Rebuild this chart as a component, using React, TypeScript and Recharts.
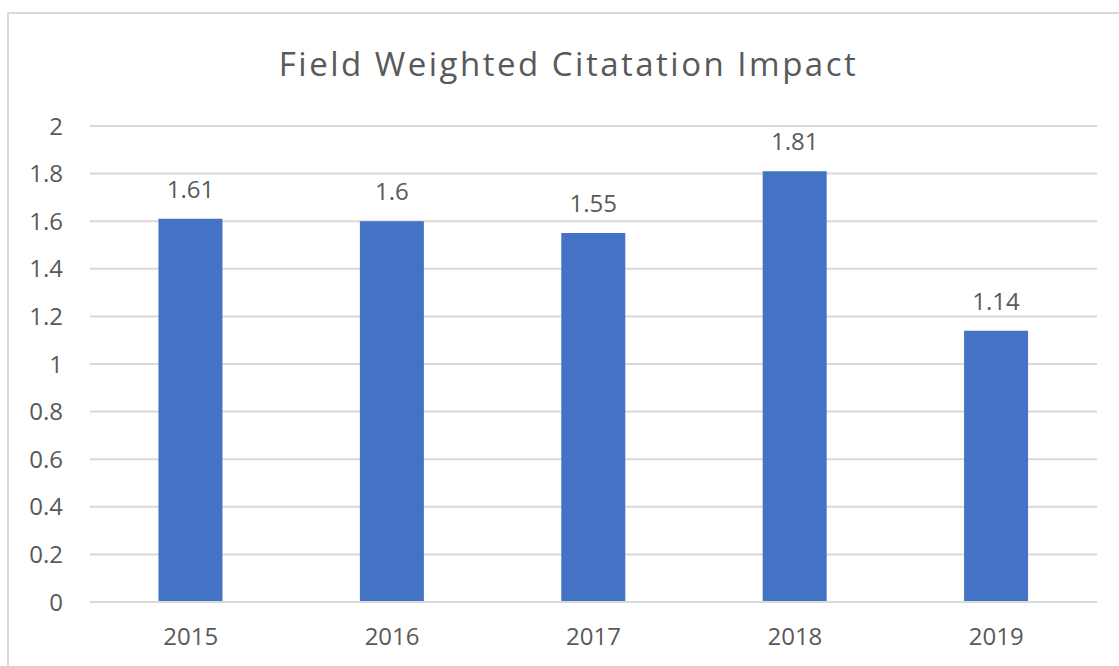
import { BarChart, Bar, XAxis, YAxis, CartesianGrid, LabelList } from 'recharts';

const years = ['2015', '2016', '2017', '2018', '2019'];
const fwci = [1.61, 1.6, 1.55, 1.81, 1.14];
const yTicks = [0, 0.2, 0.4, 0.6, 0.8, 1, 1.2, 1.4, 1.6, 1.8, 2];

const data = years.map((year, i) => ({ year, value: fwci[i] }));

const FONT = '"Open Sans", "Liberation Sans", sans-serif';
const TEXT = '#595959';

export default function App() {
  return (
    <div style={{ position: 'absolute', left: 0, top: 0, width: 1119, height: 666, background: '#fff', overflow: 'hidden', fontFamily: FONT }}>
      <div style={{ position: 'absolute', left: 7, top: 12, width: 1140, height: 700, border: '2px solid #d9d9d9', boxSizing: 'border-box' }} />
      <div style={{ position: 'absolute', left: 0, top: 40, width: 1137, textAlign: 'center', fontSize: 33, letterSpacing: 2.5, color: TEXT, lineHeight: '48px' }}>
        Field Weighted Citatation Impact
      </div>
      <div style={{ position: 'absolute', left: 0, top: 0 }}>
        <BarChart width={1119} height={666} data={data} margin={{ top: 126, right: 22, bottom: 34, left: 30 }} barCategoryGap="34%">
          <CartesianGrid vertical={false} stroke="#d9d9d9" strokeWidth={2} />
          <XAxis
            dataKey="year"
            tickLine={false}
            axisLine={{ stroke: '#d9d9d9', strokeWidth: 2 }}
            tickSize={0}
            tickMargin={26}
            tick={{ fill: TEXT, fontSize: 24, fontFamily: FONT }}
          />
          <YAxis
            width={60}
            domain={[0, 2]}
            ticks={yTicks}
            tickLine={false}
            axisLine={false}
            tickSize={0}
            tickMargin={27}
            tick={{ fill: TEXT, fontSize: 24, fontFamily: FONT }}
          />
          <Bar dataKey="value" fill="#4472c4" isAnimationActive={false}>
            <LabelList dataKey="value" position="top" offset={21} fill={TEXT} fontSize={24} fontFamily={FONT} />
          </Bar>
        </BarChart>
      </div>
    </div>
  );
}
